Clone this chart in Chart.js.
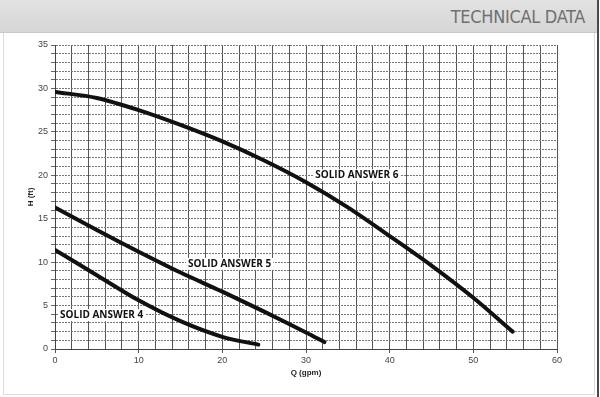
<!DOCTYPE html>
<html><head><meta charset="utf-8">
<script src="https://cdn.jsdelivr.net/npm/chart.js@4"></script>
<style>
html,body{margin:0;padding:0;background:#fff;}
#wrap{position:relative;width:600px;height:397px;overflow:hidden;}
#hdr{position:absolute;left:0;top:0;width:598px;height:32px;background:linear-gradient(#e2e2e2,#d6d6d6);border-bottom:1px solid #c8c8c8;}
#hdr span{position:absolute;right:13px;top:6px;font-family:'Liberation Sans Narrow','DejaVu Sans Condensed',sans-serif;font-size:18px;color:#707070;letter-spacing:-0.3px;}
#frame{position:absolute;left:3px;top:33px;width:590px;height:361px;border:1px solid #dcdcdc;border-top:none;}
#rline{position:absolute;left:597px;top:0;width:2px;height:397px;background:#4a4a4a;}
canvas{position:absolute;left:0;top:0;}
</style></head>
<body><div id="wrap">
<div id="hdr"><span>TECHNICAL DATA</span></div>
<div id="frame"></div>
<div id="rline"></div>
<canvas id="c" width="600" height="397"></canvas>
</div>
<script>
const seriesNames = ["SOLID ANSWER 6", "SOLID ANSWER 5", "SOLID ANSWER 4"];
const sa6Q = [0, 5, 10, 15, 20, 25, 30, 35, 40, 45, 50, 54.7];
const sa6H = [29.6, 28.9, 27.5, 25.8, 23.9, 21.7, 19.2, 16.3, 13.0, 9.6, 5.9, 2.0];
const sa5Q = [0, 5, 10, 15, 20, 25, 30, 32.2];
const sa5H = [16.3, 13.7, 11.2, 8.8, 6.6, 4.3, 1.9, 0.8];
const sa4Q = [0, 5, 10, 15, 20, 24.3];
const sa4H = [11.4, 8.5, 5.6, 3.2, 1.4, 0.5];
const labelQ = [31.1, 15.9, 0.6];
const labelH = [20.0, 9.8, 3.9];
const xTicks = [0, 10, 20, 30, 40, 50, 60];
const yTicks = [0, 5, 10, 15, 20, 25, 30, 35];

const pts = (q, h) => q.map((v, i) => ({x: v, y: h[i]}));
const mk = (name, q, h) => ({label: name, data: pts(q, h), showLine: true, borderColor: '#111', borderWidth: 4, pointRadius: 0, tension: 0.3, fill: false, borderCapStyle: 'round'});

const labelPlugin = {
  id: 'curveLabels',
  afterDatasetsDraw(chart) {
    const {ctx, scales: {x, y}} = chart;
    ctx.save();
    ctx.font = 'bold 10px "Open Sans", sans-serif';
    ctx.textBaseline = 'middle';
    ctx.textAlign = 'left';
    seriesNames.forEach((n, i) => {
      const px = x.getPixelForValue(labelQ[i]), py = y.getPixelForValue(labelH[i]);
      const w = ctx.measureText(n).width;
      ctx.fillStyle = '#fff';
      ctx.fillRect(px - 2, py - 6, w + 4, 12);
      ctx.fillStyle = '#111';
      ctx.fillText(n, px, py);
    });
    ctx.restore();
  }
};

new Chart(document.getElementById('c'), {
  type: 'scatter',
  data: {datasets: [mk(seriesNames[0], sa6Q, sa6H), mk(seriesNames[1], sa5Q, sa5H), mk(seriesNames[2], sa4Q, sa4H)]},
  options: {
    responsive: false, animation: false,
    layout: {padding: {left: 22, right: 43, top: 45, bottom: 15}},
    plugins: {legend: {display: false}, tooltip: {enabled: false}},
    scales: {
      x: {
        type: 'linear', min: 0, max: 60,
        afterFit(s) { s.height = 33; },
        afterBuildTicks(s) { s.ticks = []; for (let v = 0; v <= 60; v += 2) s.ticks.push({value: v}); },
        ticks: {autoSkip: false, maxRotation: 0, padding: 2, color: '#444', font: {family: 'Liberation Sans', size: 9},
          callback: v => xTicks.includes(v) ? String(v) : ''},
        grid: {color: '#555', lineWidth: 1, tickLength: 4,
          tickColor: c => (c.tick && xTicks.includes(c.tick.value)) ? '#555' : 'rgba(0,0,0,0)'},
        border: {color: '#444', width: 1},
        title: {display: true, text: 'Q (gpm)', color: '#222', font: {family: 'Liberation Sans', size: 8, weight: 'bold'}, padding: {top: 4, bottom: 4}}
      },
      y: {
        type: 'linear', min: 0, max: 35,
        afterFit(s) { s.width = 33; },
        afterBuildTicks(s) { s.ticks = []; for (let v = 0; v <= 35; v += 1) s.ticks.push({value: v}); },
        ticks: {autoSkip: false, padding: 3, color: '#444', font: {family: 'Liberation Sans', size: 9},
          callback: v => yTicks.includes(v) ? String(v) : ''},
        grid: {color: '#777', lineWidth: 1, tickLength: 4, tickColor: '#666'},
        border: {color: '#444', width: 1, dash: [2, 1]},
        title: {display: true, text: 'H (ft)', color: '#222', font: {family: 'Liberation Sans', size: 8, weight: 'bold'}, padding: {top: 4, bottom: 4}}
      }
    }
  },
  plugins: [labelPlugin]
});
</script>
</body></html>
